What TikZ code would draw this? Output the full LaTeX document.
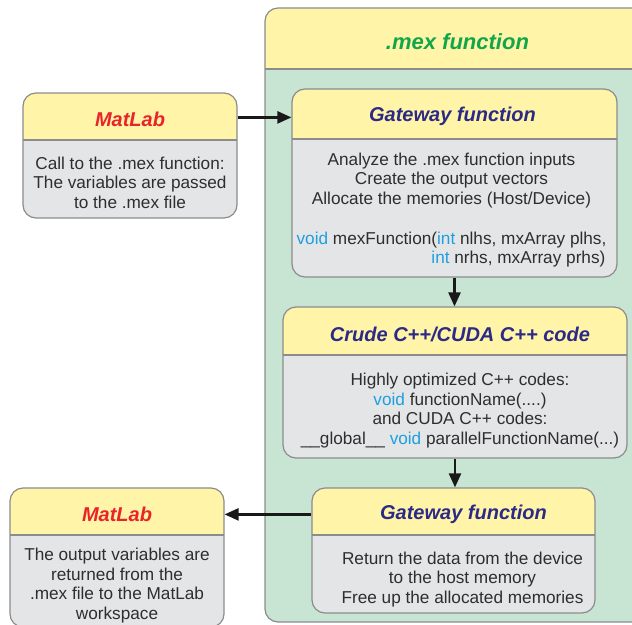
\documentclass[tikz,border=0pt]{standalone}
\usepackage{fontspec}
\setmainfont{Liberation Sans}
\usetikzlibrary{arrows.meta,positioning}

\definecolor{headyellow}{HTML}{FFF4A8}
\definecolor{bodygray}{HTML}{E4E5E7}
\definecolor{panelgreen}{HTML}{C8E4D2}
\definecolor{boxgray}{HTML}{8C8C8C}
\definecolor{titlered}{HTML}{E8232A}
\definecolor{titlenavy}{HTML}{2B2A86}
\definecolor{titlegreen}{HTML}{12A64A}
\definecolor{codeblue}{HTML}{1E9FE0}
\definecolor{textgray}{HTML}{2E2E2E}

\tikzset{
	box/.style={draw=boxgray, line width=1.2pt, rounded corners=13pt, fill=bodygray,
		path picture={
			\fill[headyellow, sharp corners] (path picture bounding box.north west) rectangle ([yshift=-#1]path picture bounding box.north east);
			\draw[boxgray, line width=1.2pt, sharp corners] ([yshift=-#1]path picture bounding box.north west) -- ([yshift=-#1]path picture bounding box.north east);
		}},
	ttl/.style={font=\fontsize{20}{24}\selectfont\bfseries\itshape, inner sep=0pt},
	txt/.style={font=\fontsize{17.2}{19.5}\selectfont, text=textgray, align=center, inner sep=0pt},
	arr/.style={-{Triangle[length=14pt,width=12pt]}, line width=2.4pt, black!90}
}
\newcommand{\kw}[1]{\textcolor{codeblue}{#1}}

\begin{document}
\begin{tikzpicture}[x=1pt,y=-1pt]
	\useasboundingbox (0,0) rectangle (632,624);
	\clip (0,0) rectangle (632,624);

	% the .mex panel
	\node[box=61pt, fill=panelgreen, minimum width=385pt, minimum height=614pt] (mex) at (457.5,315) {};
	\node[ttl, text=titlegreen, font=\fontsize{22}{26}\selectfont\bfseries\itshape] (mext) at ([yshift=-34pt]mex.north) {.mex function};

	% matlab side
	\node[box=47pt, minimum width=214pt, minimum height=125pt] (ml1) at (130,155.5) {};
	\node[ttl, text=titlered] (ml1t) at ([yshift=-27pt]ml1.north) {MatLab};
	\node[txt] (ml1b) at ([yshift=-90pt]ml1.north) {Call to the .mex function:\\The variables are passed\\to the .mex file};

	\node[box=47pt, minimum width=214pt, minimum height=139pt] (ml2) at (117,557.5) {};
	\node[ttl, text=titlered] (ml2t) at ([yshift=-27pt]ml2.north) {MatLab};
	\node[txt] (ml2b) at ([yshift=-98pt]ml2.north) {The output variables are\\returned from the\\.mex file to the MatLab\\workspace};

	% inside the panel
	\node[box=50pt, minimum width=325pt, minimum height=188pt] (gw1) at (454.5,183) {};
	\node[ttl, text=titlenavy] (gw1t) at ([xshift=-2pt,yshift=-28pt]gw1.north) {Gateway function};
	\node[txt] (gw1b) at ([xshift=-3pt,yshift=-92pt]gw1.north) {Analyze the .mex function inputs\\Create the output vectors\\Allocate the memories (Host/Device)};
	\node[txt, align=left] (gw1c) at ([xshift=-3pt,yshift=-161pt]gw1.north) {\kw{void} mexFunction(\kw{int} nlhs, mxArray plhs,\\\phantom{void mexFunction}\kw{int} nrhs, mxArray prhs)};

	\node[box=48pt, minimum width=344pt, minimum height=151pt] (cr) at (455,382.5) {};
	\node[ttl, text=titlenavy] (crt) at ([xshift=5pt,yshift=-28pt]cr.north) {Crude C++/CUDA C++ code};
	\node[txt] (crb) at ([xshift=5pt,yshift=-104pt]cr.north) {Highly optimized C++ codes:\\\kw{void} functionName(....)\\and CUDA C++ codes:\\\_\_global\_\_ \kw{void} parallelFunctionName(...)};

	\node[box=47pt, minimum width=283pt, minimum height=125pt] (gw2) at (453.5,550.5) {};
	\node[ttl, text=titlenavy] (gw2t) at ([xshift=10pt,yshift=-27pt]gw2.north) {Gateway function};
	\node[txt] (gw2b) at ([xshift=9pt,yshift=-92pt]gw2.north) {Return the data from the device\\to the host memory\\Free up the allocated memories};

	% flow
	\draw[arr] ([yshift=2pt]ml1t -| ml1.east) -- ([yshift=2pt]ml1t -| gw1.west);
	\draw[arr] (gw1.south) -- (gw1.south |- cr.north);
	\draw[arr] (cr.south) -- (cr.south |- gw2.north);
	\draw[arr] (gw2t -| gw2.west) -- (gw2t -| ml2.east);
\end{tikzpicture}
\end{document}
